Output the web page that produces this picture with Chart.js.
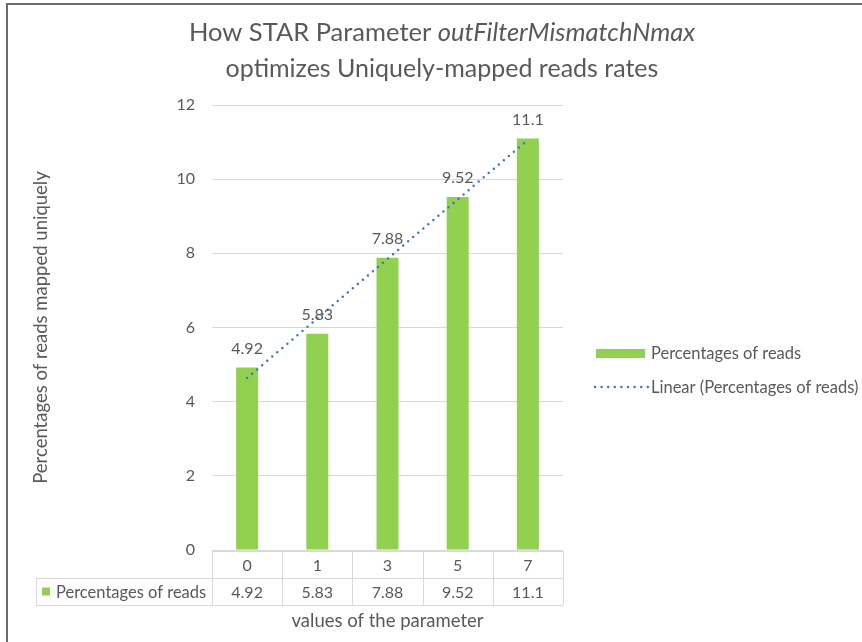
<!DOCTYPE html>
<html><head><meta charset="utf-8">
<script src="https://cdn.jsdelivr.net/npm/chart.js@4.4.1/dist/chart.umd.min.js"></script>
<style>html,body{margin:0;padding:0;background:#fff}canvas{display:block}</style>
</head><body>
<canvas id="c" width="862" height="642"></canvas>
<script>
// ---- data ----
const categories = ['0', '1', '3', '5', '7'];
const readsPct = [4.92, 5.83, 7.88, 9.52, 11.1];
const yMin = 0, yMax = 12, yStep = 2;
const seriesName = 'Percentages of reads';
const trendName = 'Linear (Percentages of reads)';
const titleLine1 = ['How STAR Parameter ', 'outFilterMismatchNmax'];
const titleLine2 = 'optimizes Uniquely-mapped reads rates';
const yTitle = 'Percentages of reads mapped uniquely';
const xTitle = 'values of the parameter';

// least-squares linear trend over category positions 1..n
function linearTrend(vals) {
  const n = vals.length;
  const xs = vals.map((_, i) => i + 1);
  const mx = xs.reduce((a, b) => a + b, 0) / n;
  const my = vals.reduce((a, b) => a + b, 0) / n;
  let sxy = 0, sxx = 0;
  xs.forEach((x, i) => { sxy += (x - mx) * (vals[i] - my); sxx += (x - mx) * (x - mx); });
  const slope = sxy / sxx, icpt = my - slope * mx;
  return xs.map(x => icpt + slope * x);
}
const trendValues = linearTrend(readsPct);

// ---- styling ----
const FONT = 'Lato';
const TEXT = '#595959';
const GRID = '#D9D9D9';
const GREEN = '#92D050';
const BLUE = '#4472C4';

Chart.defaults.font.family = FONT;
Chart.defaults.color = TEXT;

// outer frame and the two-line title (with the italic parameter name)
const frameTitlePlugin = {
  id: 'frameTitle',
  afterDraw(chart) {
    const ctx = chart.ctx;
    ctx.save();
    ctx.strokeStyle = '#6B6B6B';
    ctx.lineWidth = 2;
    ctx.beginPath();
    ctx.moveTo(7, 642); ctx.lineTo(7, 4); ctx.lineTo(862, 4);
    ctx.stroke();

    const cx = 442;
    ctx.fillStyle = TEXT;
    ctx.textBaseline = 'alphabetic';
    const fNormal = `25.5px ${FONT}`, fItalic = `italic 25.5px ${FONT}`;
    ctx.font = fNormal; const w1 = ctx.measureText(titleLine1[0]).width;
    ctx.font = fItalic; const w2 = ctx.measureText(titleLine1[1]).width;
    const x = cx - (w1 + w2) / 2;
    ctx.textAlign = 'left';
    ctx.font = fNormal; ctx.fillText(titleLine1[0], x, 41);
    ctx.font = fItalic; ctx.fillText(titleLine1[1], x + w1, 41);
    ctx.font = `25px ${FONT}`; ctx.textAlign = 'center';
    ctx.fillText(titleLine2, cx, 77);
    ctx.restore();
  }
};

// value labels above each bar
const barLabelPlugin = {
  id: 'barLabels',
  afterDatasetsDraw(chart) {
    const ctx = chart.ctx;
    const idx = chart.data.datasets.findIndex(d => d.type === 'bar');
    const meta = chart.getDatasetMeta(idx);
    ctx.save();
    ctx.font = `16px ${FONT}`;
    ctx.fillStyle = TEXT;
    ctx.textAlign = 'center';
    ctx.textBaseline = 'middle';
    meta.data.forEach((bar, i) => {
      ctx.fillText(String(readsPct[i]), bar.x, bar.y - 19);
    });
    ctx.restore();
  }
};

// data table under the plot: category row + value row
const dataTablePlugin = {
  id: 'dataTable',
  afterDraw(chart) {
    const ctx = chart.ctx;
    const xs = chart.scales.x;
    const area = chart.chartArea;
    const n = categories.length;
    const colW = (area.right - area.left) / n;
    const r0 = Math.round(area.bottom) + 1, rh = 27;
    const r1 = r0 + rh, r2 = r1 + rh;
    const headLeft = 36;
    ctx.save();
    ctx.strokeStyle = GRID;
    ctx.lineWidth = 1;
    ctx.beginPath();
    ctx.moveTo(area.left, r0 + 0.5); ctx.lineTo(area.right, r0 + 0.5);
    ctx.moveTo(headLeft, r1 + 0.5); ctx.lineTo(area.right, r1 + 0.5);
    ctx.moveTo(headLeft, r2 + 0.5); ctx.lineTo(area.right, r2 + 0.5);
    ctx.moveTo(headLeft + 0.5, r1); ctx.lineTo(headLeft + 0.5, r2);
    for (let i = 0; i <= n; i++) {
      const x = Math.round(area.left + i * colW) + 0.5;
      ctx.moveTo(x, r0); ctx.lineTo(x, r2);
    }
    ctx.stroke();

    ctx.font = `16px ${FONT}`;
    ctx.fillStyle = TEXT;
    ctx.textAlign = 'center';
    ctx.textBaseline = 'middle';
    categories.forEach((c, i) => {
      const x = xs.getPixelForValue(i);
      ctx.fillText(c, x, (r0 + r1) / 2 + 1);
      ctx.fillText(String(readsPct[i]), x, (r1 + r2) / 2 + 1);
    });
    ctx.fillStyle = GREEN;
    ctx.fillRect(42, (r1 + r2) / 2 - 4, 8, 8);
    ctx.fillStyle = TEXT;
    ctx.textAlign = 'left';
    ctx.font = `16.5px ${FONT}`;
    ctx.fillText(seriesName, 56, (r1 + r2) / 2 + 1);
    ctx.restore();
  }
};

// legend on the right
const legendPlugin = {
  id: 'sideLegend',
  afterDraw(chart) {
    const ctx = chart.ctx;
    ctx.save();
    ctx.fillStyle = GREEN;
    ctx.fillRect(596, 349, 49, 9);
    ctx.strokeStyle = BLUE;
    ctx.lineWidth = 2.5;
    ctx.lineCap = 'round';
    ctx.setLineDash([0, 6.6]);
    ctx.beginPath();
    ctx.moveTo(595, 387); ctx.lineTo(648, 387);
    ctx.stroke();
    ctx.setLineDash([]);
    ctx.font = `16.5px ${FONT}`;
    ctx.fillStyle = TEXT;
    ctx.textAlign = 'left';
    ctx.textBaseline = 'middle';
    ctx.fillText(seriesName, 651, 354);
    ctx.fillText(trendName, 651, 388);
    ctx.restore();
  }
};

new Chart(document.getElementById('c'), {
  data: {
    labels: categories,
    datasets: [
      {
        type: 'line',
        label: trendName,
        data: trendValues,
        borderColor: BLUE,
        borderWidth: 2.5,
        borderDash: [0, 6.6],
        borderCapStyle: 'round',
        pointRadius: 0,
        fill: false,
        tension: 0,
        order: 1
      },
      {
        type: 'bar',
        label: seriesName,
        data: readsPct,
        backgroundColor: GREEN,
        borderWidth: 0,
        categoryPercentage: 1,
        barPercentage: 0.313,
        order: 2
      }
    ]
  },
  options: {
    responsive: false,
    animation: false,
    devicePixelRatio: 1,
    layout: { padding: { left: 0, right: 299, top: 105, bottom: 0 } },
    plugins: {
      legend: { display: false },
      title: { display: false },
      tooltip: { enabled: false }
    },
    scales: {
      x: {
        offset: true,
        grid: { display: false },
        border: { display: false },
        ticks: { display: false },
        title: {
          display: true,
          text: xTitle,
          font: { size: 18.5, family: FONT },
          color: TEXT,
          padding: { top: 0, bottom: 10 }
        },
        afterFit(s) { s.height = 92; }
      },
      y: {
        min: yMin,
        max: yMax,
        grid: { color: GRID, lineWidth: 1, drawTicks: false },
        border: { display: false },
        ticks: { stepSize: yStep, padding: 17, font: { size: 16, family: FONT }, color: TEXT },
        title: {
          display: true,
          text: yTitle,
          font: { size: 18.5, family: FONT },
          color: TEXT,
          padding: { top: 30, bottom: 0 }
        },
        afterFit(s) { s.width = 212; }
      }
    }
  },
  plugins: [frameTitlePlugin, barLabelPlugin, dataTablePlugin, legendPlugin]
});
</script>
</body></html>
